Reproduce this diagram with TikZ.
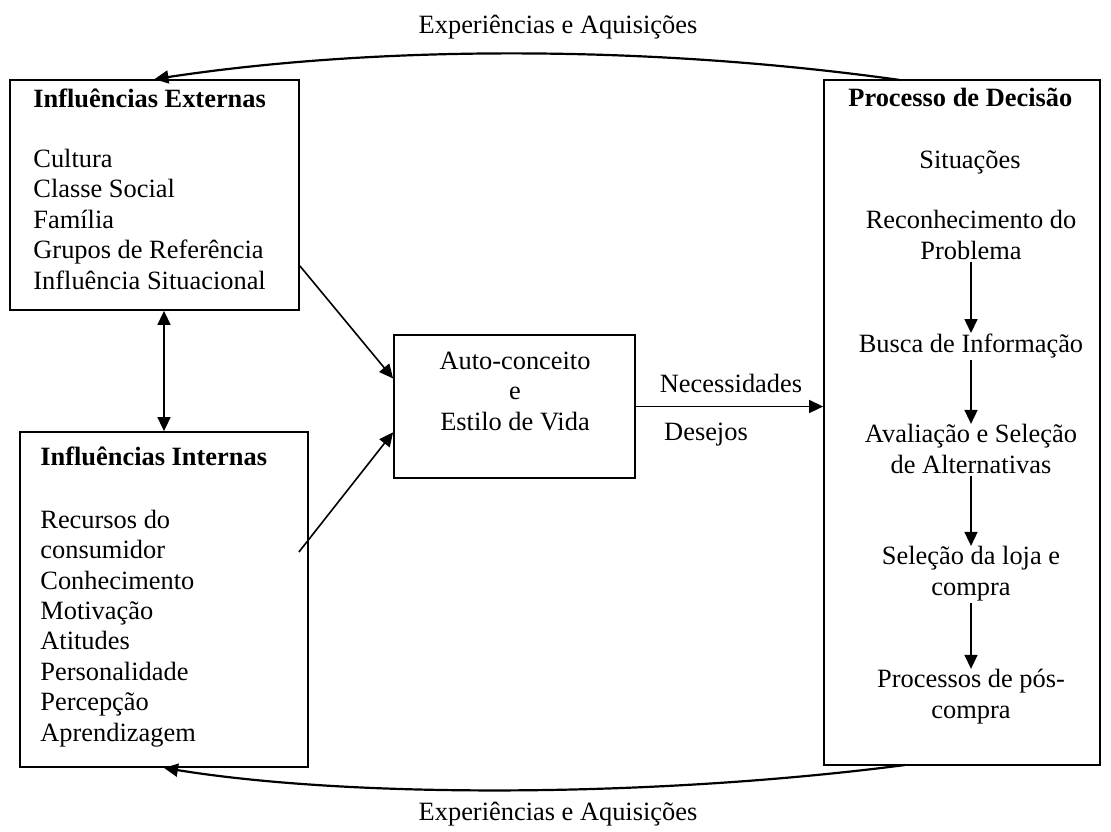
\documentclass[tikz,border=0pt]{standalone}
\usepackage{fontspec}
\setmainfont{Liberation Serif}
\usepackage{tikz}
\usetikzlibrary{calc,positioning,arrows.meta}

\tikzset{
	caixa/.style={draw,line width=0.9pt,rectangle,inner sep=0pt},
	texto/.style={inner sep=0pt,font=\fontsize{13.2}{15.2}\selectfont},
	titulo/.style={inner sep=0pt,anchor=base west,font=\fontsize{13.2}{15.2}\selectfont\bfseries},
	seta/.style={line width=0.8pt,-{Triangle[length=7pt,width=6.5pt]}},
	curva/.style={line width=1.1pt,-{Triangle[length=7pt,width=6.5pt]}},
}

\begin{document}
\begin{tikzpicture}[x=0.5pt,y=-0.5pt]
		\useasboundingbox (0,0) rectangle (1111,831);
		% caixas
		\node(ext) [caixa,minimum width=144.5pt,minimum height=115pt] at (154.5,195) {};
		\node(int) [caixa,minimum width=144pt,minimum height=167.5pt] at (164,599.5) {};
		\node(auto) [caixa,minimum width=120.5pt,minimum height=71.5pt] at (514.5,406.5) {};
		\node(dec) [caixa,minimum width=138pt,minimum height=342.5pt] at (962,422.5) {};

		% influencias externas
		\node(extT) [titulo] at (33,107) {Influências Externas};
		\node(extL) [texto,anchor=base west,align=left] at (33,289) {Cultura\\Classe Social\\Família\\Grupos de Referência\\Influência Situacional};

		% influencias internas
		\node(intT) [titulo] at (40,465) {Influências Internas};
		\node(intL) [texto,anchor=base west,align=left] at (40,741) {Recursos do\\consumidor\\Conhecimento\\Motivação\\Atitudes\\Personalidade\\Percepção\\Aprendizagem};

		% auto-conceito
		\node(autoT) [texto,anchor=base,align=center] at (515,430) {Auto-conceito\\e\\Estilo de Vida};
		\node(nec) [texto,anchor=base] at (731,392) {Necessidades};
		\node(des) [texto,anchor=base] at (706,440) {Desejos};

		% processo de decisao
		\node(decT) [titulo] at (848,106) {Processo de Decisão};
		\node(sit) [texto,anchor=base] at (970,168) {Situações};
		\node(rec) [texto,anchor=base,align=center] at (971,259) {Reconhecimento do\\Problema};
		\node(bus) [texto,anchor=base] at (971,352) {Busca de Informação};
		\node(ava) [texto,anchor=base,align=center] at (971,473) {Avaliação e Seleção\\de Alternativas};
		\node(loj) [texto,anchor=base,align=center] at (971,595) {Seleção da loja e\\compra};
		\node(pos) [texto,anchor=base,align=center] at (971,718) {Processos de pós-\\compra};

		\node(expA) [texto,anchor=base] at (558,33) {Experiências e Aquisições};
		\node(expB) [texto,anchor=base] at (558,820) {Experiências e Aquisições};

		\coordinate(topo) at (900,80);
		\coordinate(base) at (905,765);
		\coordinate(intS) at ($(int.east)+(-10,-47.5)$);

		\path[seta]
			(ext.334.8) edge (auto.167.6)
			(intS) edge (auto.192.4)
			(auto.east) edge (auto.east -| dec.west);
		\draw[line width=0.8pt,{Triangle[length=7pt,width=6.5pt]}-{Triangle[length=7pt,width=6.5pt]}]
			(int.north |- ext.south) -- (int.north);
		\path[seta,shorten <=1pt]
			(rec) edge (bus)
			(bus) edge (ava)
			(ava) edge (loj)
			(loj) edge (pos);
		\draw[curva] (topo) .. controls (650,45) and (380,45) .. (ext.north);
		\draw[curva] (base) .. controls (650,798) and (350,798) .. (int.south);
	\end{tikzpicture}
\end{document}
